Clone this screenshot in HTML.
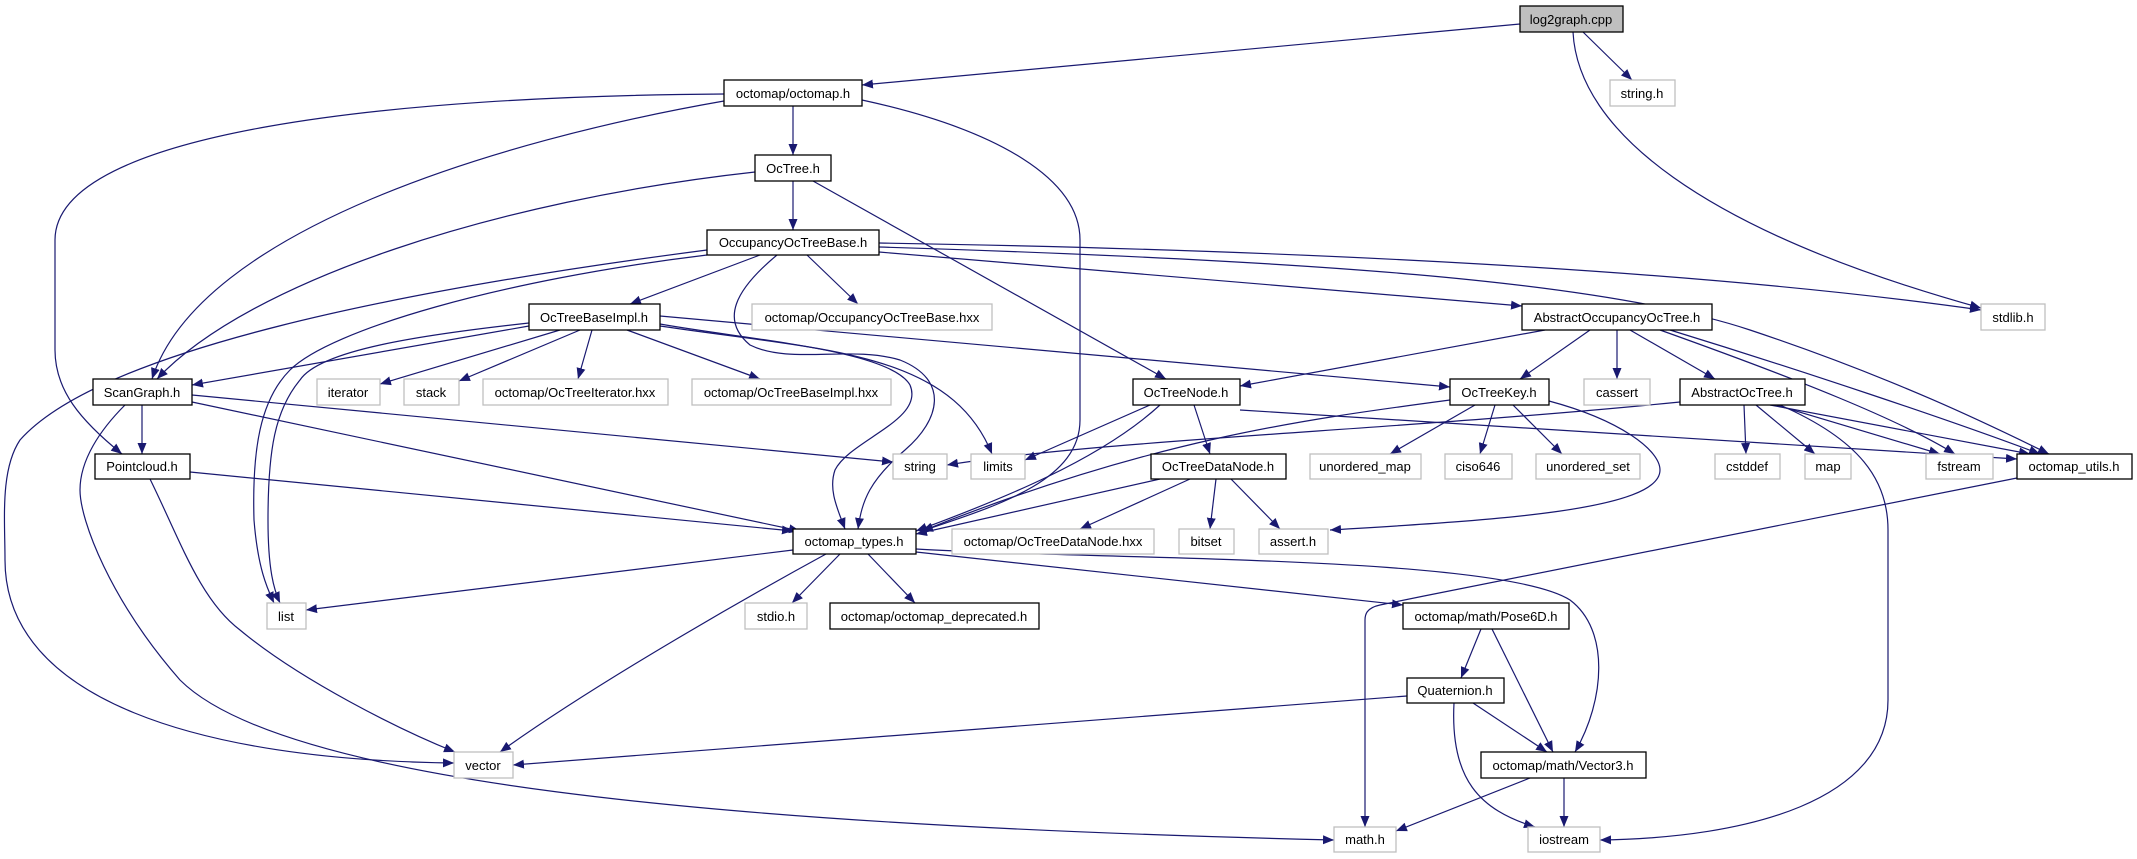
<!DOCTYPE html>
<html><head><meta charset="utf-8"><style>
html,body{margin:0;padding:0;background:#fff;}
svg{display:block;}
text{font-family:"Liberation Sans",sans-serif;font-size:13px;fill:#000;}
</style></head><body>
<svg width="2137" height="859" viewBox="0 0 2137 859" xmlns="http://www.w3.org/2000/svg">
<defs>
<marker id="a" markerWidth="12" markerHeight="10" refX="11" refY="5" orient="auto" markerUnits="userSpaceOnUse">
<path d="M0,0.5 L11,5 L0,9.5 z" fill="#191970"/>
</marker>
</defs>
<g fill="none" stroke="#191970" stroke-width="1.2" marker-end="url(#a)">
<path d="M1520,24 L862,85"/>
<path d="M1583,32 L1632,80"/>
<path d="M1573,32 C1578,130 1700,230 1981,308"/>
<path d="M793,106 L793,155"/>
<path d="M724,101 C500,140 200,230 152,379"/>
<path d="M724,94 C400,96 55,130 55,240 L55,350 C55,390 80,420 122,454"/>
<path d="M862,100 C1000,130 1080,180 1080,240 L1080,420 C1080,480 1000,505 922,531"/>
<path d="M793,181 L793,230"/>
<path d="M755,172 C500,200 250,280 157,379"/>
<path d="M813,181 L1166,379"/>
<path d="M760,255 L630,304"/>
<path d="M807,255 L858,304"/>
<path d="M879,252 L1522,306"/>
<path d="M879,243 C1300,250 1700,270 1981,310"/>
<path d="M879,247 C1300,260 1600,280 1750,330 C1900,380 2000,430 2049,454"/>
<path d="M707,250 C400,290 100,350 20,440 C0,470 5,520 5,560 C5,700 200,760 454,763"/>
<path d="M707,255 C500,280 330,330 290,370 C260,400 252,450 254,520 C258,570 268,590 274,603"/>
<path d="M777,255 C735,290 720,320 750,345 C790,365 850,345 900,360 C950,380 940,420 905,450 C870,480 862,500 858,529"/>
<path d="M529,326 L192,385"/>
<path d="M560,330 L380,384"/>
<path d="M580,330 L459,381"/>
<path d="M592,330 L578,379"/>
<path d="M627,330 L760,379"/>
<path d="M529,323 C420,335 320,350 300,380 C275,410 268,450 268,520 C268,570 274,590 280,603"/>
<path d="M660,324 C750,340 890,350 910,385 C925,420 850,440 835,470 C828,490 838,510 845,529"/>
<path d="M660,326 C820,350 950,350 992,454"/>
<path d="M660,316 L1450,387"/>
<path d="M1545,330 L1240,386"/>
<path d="M1590,330 L1520,379"/>
<path d="M1617,330 L1617,379"/>
<path d="M1630,330 L1715,379"/>
<path d="M1660,330 C1800,380 1900,420 1955,454"/>
<path d="M1670,330 C1800,370 1950,420 2040,454"/>
<path d="M192,395 L893,462"/>
<path d="M1150,405 L1025,460"/>
<path d="M1160,405 C1100,460 1000,500 916,531"/>
<path d="M1194,405 L1210,454"/>
<path d="M1240,410 L2017,459"/>
<path d="M1475,405 L1390,454"/>
<path d="M1495,405 L1480,454"/>
<path d="M1513,405 L1562,454"/>
<path d="M1549,401 C1620,420 1660,450 1660,470 C1660,510 1500,520 1330,530"/>
<path d="M1450,400 C1300,420 1150,440 922,531"/>
<path d="M1680,402 C1400,430 1100,440 947,465"/>
<path d="M1744,405 L1746,454"/>
<path d="M1756,405 L1815,454"/>
<path d="M1776,405 L1940,454"/>
<path d="M1770,405 L2030,454"/>
<path d="M1780,405 C1860,440 1888,480 1888,530 L1888,700 C1888,800 1750,838 1600,840"/>
<path d="M142,405 L142,454"/>
<path d="M192,402 L800,531"/>
<path d="M125,405 C100,430 80,460 80,490 C80,520 110,600 180,680 C280,780 700,825 1334,840"/>
<path d="M150,479 C180,540 200,600 240,630 C300,680 400,730 455,752"/>
<path d="M190,472 L793,531"/>
<path d="M1160,479 L916,534"/>
<path d="M1190,479 L1080,529"/>
<path d="M1216,479 L1210,529"/>
<path d="M1231,479 L1280,529"/>
<path d="M793,550 L306,610"/>
<path d="M840,554 L792,603"/>
<path d="M868,554 L915,603"/>
<path d="M826,554 C760,590 600,680 500,752"/>
<path d="M916,552 L1403,605"/>
<path d="M916,549 C1100,560 1500,555 1570,600 C1610,630 1605,700 1575,752"/>
<path d="M2017,478 L1424,596 L1380,605 C1366,608 1365,615 1365,620 L1365,827"/>
<path d="M1481,629 L1461,678"/>
<path d="M1492,629 L1553,752"/>
<path d="M1407,696 L513,765"/>
<path d="M1473,703 L1547,752"/>
<path d="M1454,703 C1450,780 1480,810 1535,827"/>
<path d="M1530,778 L1396,831"/>
<path d="M1564,778 L1564,827"/>
</g>
<g stroke-width="1.3">
<rect x="1520" y="6" width="103" height="26" fill="#bfbfbf" stroke="#000"/>
<g fill="#fff" stroke="#000">
<rect x="724" y="80" width="138" height="26"/>
<rect x="755" y="155" width="76" height="26"/>
<rect x="707" y="230" width="172" height="25"/>
<rect x="529" y="304" width="131" height="26"/>
<rect x="1522" y="304" width="190" height="26"/>
<rect x="93" y="379" width="99" height="26"/>
<rect x="1133" y="379" width="107" height="26"/>
<rect x="1450" y="379" width="99" height="26"/>
<rect x="1680" y="379" width="125" height="26"/>
<rect x="95" y="454" width="95" height="25"/>
<rect x="1151" y="454" width="135" height="25"/>
<rect x="2017" y="454" width="115" height="25"/>
<rect x="793" y="529" width="123" height="25"/>
<rect x="830" y="603" width="209" height="26"/>
<rect x="1403" y="603" width="166" height="26"/>
<rect x="1407" y="678" width="97" height="25"/>
<rect x="1481" y="752" width="165" height="26"/>
</g>
<g fill="#fff" stroke="#bfbfbf">
<rect x="1610" y="80" width="65" height="26"/>
<rect x="1981" y="304" width="64" height="26"/>
<rect x="752" y="304" width="240" height="26"/>
<rect x="317" y="379" width="63" height="26"/>
<rect x="404" y="379" width="55" height="26"/>
<rect x="483" y="379" width="185" height="26"/>
<rect x="692" y="379" width="199" height="26"/>
<rect x="1584" y="379" width="66" height="26"/>
<rect x="893" y="454" width="54" height="25"/>
<rect x="971" y="454" width="54" height="25"/>
<rect x="1310" y="454" width="111" height="25"/>
<rect x="1445" y="454" width="67" height="25"/>
<rect x="1536" y="454" width="104" height="25"/>
<rect x="1715" y="454" width="65" height="25"/>
<rect x="1805" y="454" width="46" height="25"/>
<rect x="1926" y="454" width="67" height="25"/>
<rect x="952" y="529" width="202" height="25"/>
<rect x="1179" y="529" width="55" height="25"/>
<rect x="1259" y="529" width="69" height="25"/>
<rect x="267" y="603" width="39" height="26"/>
<rect x="745" y="603" width="62" height="26"/>
<rect x="454" y="752" width="59" height="26"/>
<rect x="1334" y="827" width="62" height="25"/>
<rect x="1528" y="827" width="72" height="25"/>
</g>
</g>
<g text-anchor="middle">
<text x="1571" y="24">log2graph.cpp</text>
<text x="793" y="98">octomap/octomap.h</text>
<text x="793" y="173">OcTree.h</text>
<text x="793" y="247">OccupancyOcTreeBase.h</text>
<text x="594" y="322">OcTreeBaseImpl.h</text>
<text x="1617" y="322">AbstractOccupancyOcTree.h</text>
<text x="142" y="397">ScanGraph.h</text>
<text x="1186" y="397">OcTreeNode.h</text>
<text x="1499" y="397">OcTreeKey.h</text>
<text x="1742" y="397">AbstractOcTree.h</text>
<text x="142" y="471">Pointcloud.h</text>
<text x="1218" y="471">OcTreeDataNode.h</text>
<text x="2074" y="471">octomap_utils.h</text>
<text x="854" y="546">octomap_types.h</text>
<text x="934" y="621">octomap/octomap_deprecated.h</text>
<text x="1486" y="621">octomap/math/Pose6D.h</text>
<text x="1455" y="695">Quaternion.h</text>
<text x="1563" y="770">octomap/math/Vector3.h</text>
<text x="1642" y="98">string.h</text>
<text x="2013" y="322">stdlib.h</text>
<text x="872" y="322">octomap/OccupancyOcTreeBase.hxx</text>
<text x="348" y="397">iterator</text>
<text x="431" y="397">stack</text>
<text x="575" y="397">octomap/OcTreeIterator.hxx</text>
<text x="791" y="397">octomap/OcTreeBaseImpl.hxx</text>
<text x="1617" y="397">cassert</text>
<text x="920" y="471">string</text>
<text x="998" y="471">limits</text>
<text x="1365" y="471">unordered_map</text>
<text x="1478" y="471">ciso646</text>
<text x="1588" y="471">unordered_set</text>
<text x="1747" y="471">cstddef</text>
<text x="1828" y="471">map</text>
<text x="1959" y="471">fstream</text>
<text x="1053" y="546">octomap/OcTreeDataNode.hxx</text>
<text x="1206" y="546">bitset</text>
<text x="1293" y="546">assert.h</text>
<text x="286" y="621">list</text>
<text x="776" y="621">stdio.h</text>
<text x="483" y="770">vector</text>
<text x="1365" y="844">math.h</text>
<text x="1564" y="844">iostream</text>
</g>
</svg>
</body></html>
